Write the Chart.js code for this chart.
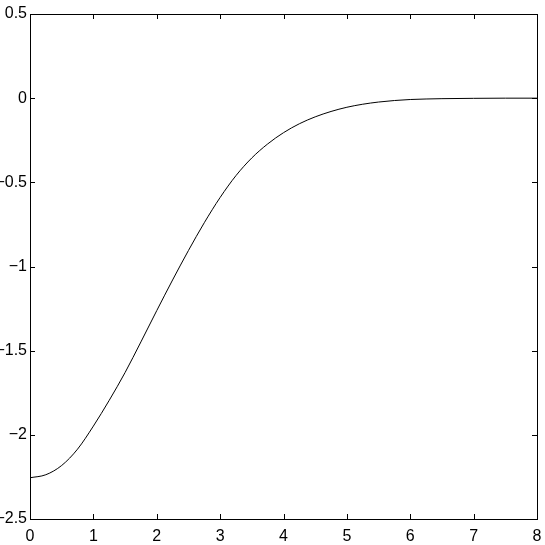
<!DOCTYPE html>
<html>
<head>
<meta charset="utf-8">
<script src="https://cdn.jsdelivr.net/npm/chart.js@4"></script>
<style>
  html, body { margin: 0; padding: 0; background: #fff; }
  canvas { display: block; }
</style>
</head>
<body>
<canvas id="grafico" width="545" height="545"></canvas>
<script>
// valores
const xValores = [0, 0.25, 0.5, 0.75, 1, 1.25, 1.5, 1.75, 2, 2.25, 2.5, 2.75, 3, 3.25, 3.5, 3.75, 4, 4.25, 4.5, 4.75, 5, 5.25, 5.5, 5.75, 6, 6.5, 7, 7.5, 8];
const yValores = [-2.255, -2.237, -2.182, -2.085, -1.948, -1.795, -1.63, -1.448, -1.262, -1.08, -0.905, -0.74, -0.59, -0.46, -0.355, -0.272, -0.205, -0.152, -0.111, -0.079, -0.054, -0.036, -0.023, -0.014, -0.008, -0.003, -0.001, 0, 0];
const xTicks = [0, 1, 2, 3, 4, 5, 6, 7, 8];
const yTicks = [-2.5, -2, -1.5, -1, -0.5, 0, 0.5];

const fonte = "'Liberation Sans Narrow', 'Liberation Sans', Arial, sans-serif";

function rotulo(v) {
    return String(v).replace('-', '\u2212');
}

// caixa com marcas para dentro, estilo MATLAB
const caixa = {
    id: 'caixa',
    afterDraw(chart) {
        const { ctx, chartArea: a, scales } = chart;
        const tam = 5;
        ctx.save();
        ctx.strokeStyle = '#000';
        ctx.lineWidth = 1;
        ctx.beginPath();
        xTicks.forEach(v => {
            const px = Math.round(scales.x.getPixelForValue(v)) + 0.5;
            ctx.moveTo(px, a.bottom); ctx.lineTo(px, a.bottom - tam);
            ctx.moveTo(px, a.top); ctx.lineTo(px, a.top + tam);
        });
        yTicks.forEach(v => {
            const py = Math.round(scales.y.getPixelForValue(v)) + 0.5;
            ctx.moveTo(a.left, py); ctx.lineTo(a.left + tam, py);
            ctx.moveTo(a.right, py); ctx.lineTo(a.right - tam, py);
        });
        ctx.stroke();
        ctx.strokeRect(Math.round(a.left) + 0.5, Math.round(a.top) + 0.5,
                       Math.round(a.right - a.left), Math.round(a.bottom - a.top));
        ctx.restore();
    }
};

new Chart(document.getElementById('grafico').getContext('2d'), {
    type: 'line',
    data: {
        datasets: [{
            data: xValores.map((x, i) => ({ x: x, y: yValores[i] })),
            borderColor: '#000',
            borderWidth: 1,
            pointRadius: 0,
            cubicInterpolationMode: 'monotone',
            fill: false
        }]
    },
    options: {
        responsive: false,
        animation: false,
        layout: { padding: { top: 14, right: 8, left: 0, bottom: 0 } },
        plugins: { legend: { display: false }, tooltip: { enabled: false } },
        scales: {
            x: {
                type: 'linear',
                min: 0, max: 8,
                afterBuildTicks: s => { s.ticks = xTicks.map(v => ({ value: v })); },
                afterFit: s => { s.height = 26; s.paddingLeft = 0; s.paddingRight = 0; },
                grid: { display: false, drawTicks: false },
                border: { display: false },
                ticks: {
                    color: '#000',
                    padding: 8,
                    maxRotation: 0,
                    autoSkip: false,
                    font: { family: fonte, size: 16 },
                    callback: v => rotulo(v)
                }
            },
            y: {
                type: 'linear',
                min: -2.5, max: 0.5,
                afterBuildTicks: s => { s.ticks = yTicks.map(v => ({ value: v })); },
                afterFit: s => { s.width = 30; s.paddingTop = 0; s.paddingBottom = 0; },
                grid: { display: false, drawTicks: false },
                border: { display: false },
                ticks: {
                    color: '#000',
                    padding: 3,
                    autoSkip: false,
                    font: { family: fonte, size: 16 },
                    callback: v => rotulo(v)
                }
            }
        }
    },
    plugins: [caixa]
});
</script>
</body>
</html>
